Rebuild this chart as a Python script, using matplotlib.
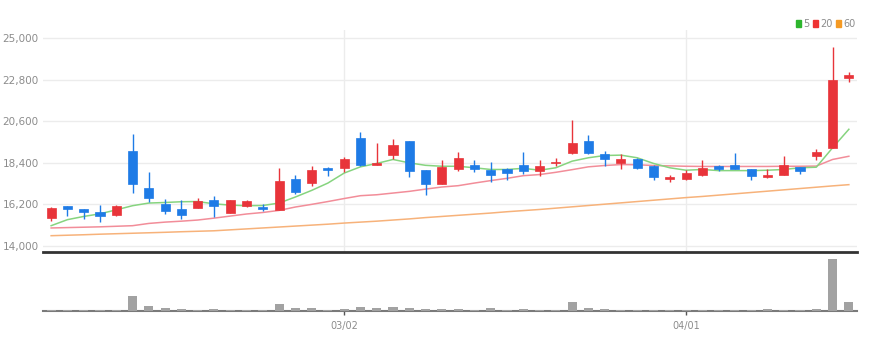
import matplotlib
matplotlib.use("Agg")
import matplotlib.pyplot as plt
from matplotlib.patches import Patch

# daily OHLC (50 sessions)
opens = [15470, 16080, 15920, 15780, 15620, 19010, 17050, 16190, 15970, 16010,
         16420, 15730, 16120, 16050, 15900, 17510, 17320, 18140, 18140, 19700,
         18300, 18800, 19540, 18020, 17270, 18040, 18300, 18000, 18040, 18300,
         17940, 18390, 18890, 19540, 18870, 18390, 18570, 18250, 17540, 17540,
         17730, 18200, 18260, 18040, 17620, 17770, 18160, 18770, 19190, 22890]
highs = [16030, 16100, 15970, 16150, 16150, 19910, 17900, 16490, 16430, 16550,
         16610, 16440, 16430, 16190, 18130, 17760, 18200, 18160, 18690, 20020,
         19460, 19630, 19560, 18030, 18520, 18980, 18520, 18420, 18130, 18980,
         18520, 18660, 20660, 19850, 19010, 18870, 18660, 18300, 17770, 18000,
         18520, 18300, 18890, 18050, 18070, 18740, 18170, 19100, 24520, 23190]
lows = [15330, 15550, 15430, 15270, 15550, 16790, 16340, 15690, 15410, 15990,
        15520, 15710, 16060, 15850, 15870, 16750, 17190, 17670, 17930, 18200,
        18290, 18570, 17620, 16700, 17250, 17940, 17890, 17360, 17500, 17820,
        17720, 18210, 18840, 18840, 18210, 18040, 18090, 17500, 17360, 17500,
        17680, 17940, 18040, 17470, 17610, 17760, 17810, 18520, 19190, 22660]
closes = [16000, 15960, 15800, 15590, 16120, 17280, 16540, 15850, 15640, 16380,
          16130, 16420, 16380, 15920, 17420, 16870, 18000, 18020, 18590, 18290,
          18380, 19330, 17980, 17270, 18160, 18660, 18040, 17750, 17860, 17980,
          18210, 18460, 19460, 18930, 18570, 18600, 18130, 17650, 17620, 17860,
          18130, 18070, 18040, 17680, 17770, 18300, 17940, 18940, 22780, 23030]

# moving averages as published with the quotes
ma5 = [15060, 15380, 15550, 15690, 15900, 16120, 16260, 16290, 16330, 16340,
       16220, 16150, 16120, 16130, 16260, 16580, 16930, 17320, 17850, 18180,
       18360, 18570, 18390, 18260, 18210, 18210, 18130, 18040, 18040, 18100,
       18000, 18130, 18480, 18660, 18780, 18800, 18660, 18360, 18130, 18000,
       18040, 17980, 17980, 17980, 18000, 18040, 18130, 18160, 19190, 20170]
ma20 = [14940, 14960, 14980, 15000, 15030, 15060, 15180, 15250, 15300, 15360,
        15460, 15570, 15680, 15760, 15870, 16050, 16190, 16340, 16500, 16650,
        16700, 16790, 16880, 17000, 17110, 17180, 17320, 17450, 17570, 17710,
        17770, 17890, 18030, 18180, 18250, 18300, 18290, 18250, 18230, 18210,
        18200, 18200, 18200, 18200, 18200, 18210, 18210, 18220, 18570, 18740]
ma60 = [14530, 14555, 14580, 14610, 14635, 14660, 14685, 14710, 14740, 14765,
        14790, 14840, 14890, 14940, 14990, 15040, 15090, 15140, 15200, 15250,
        15300, 15360, 15420, 15490, 15550, 15610, 15670, 15730, 15800, 15860,
        15920, 15990, 16060, 16130, 16200, 16270, 16340, 16410, 16480, 16550,
        16610, 16680, 16750, 16820, 16890, 16960, 17030, 17100, 17170, 17235]

# traded volume (thousand shares)
volume = [60, 70, 60, 60, 70, 1020, 290, 160, 140, 70,
          140, 70, 60, 70, 470, 180, 180, 70, 140, 250,
          160, 250, 180, 140, 140, 140, 70, 160, 70, 140,
          70, 60, 610, 180, 140, 60, 70, 60, 70, 60,
          70, 60, 70, 60, 140, 70, 60, 140, 3500, 560]

price_ticks = [14000, 16200, 18400, 20600, 22800, 25000]
date_ticks = [18, 39]
date_labels = ["03/02", "04/01"]

UP = "#e8343a"
DOWN = "#1e7be6"
GRID = "#ececec"
TXT = "#8c8c8c"
NARROW = ["Liberation Sans Narrow", "DejaVu Sans"]

fig = plt.figure(figsize=(8.75, 3.5), dpi=100)
ax = fig.add_axes([43 / 875, 1 - 252 / 350, 814 / 875, 222 / 350])
axv = fig.add_axes([43 / 875, 1 - 311 / 350, 814 / 875, 55 / 350])

n = len(closes)
xs = list(range(n))

# candles
for i in xs:
    o, h, l, c = opens[i], highs[i], lows[i], closes[i]
    col = UP if c >= o else DOWN
    ax.vlines(i, l, h, color=col, linewidth=1, zorder=3)
    bottom = min(o, c)
    height = max(abs(c - o), 40)
    ax.bar(i, height, bottom=bottom, width=0.56, color=col, edgecolor=col,
           linewidth=0.5, zorder=4)

# moving averages
ax.plot(xs, ma60, color="#f7b27a", linewidth=1.1, zorder=2)
ax.plot(xs, ma20, color="#f28d99", linewidth=1.1, zorder=2)
ax.plot(xs, ma5, color="#86d47f", linewidth=1.1, zorder=2)

ax.set_xlim(-0.5, n - 0.5)
ax.set_ylim(13666, 25432)
ax.set_yticks(price_ticks)
ax.set_yticklabels([f"{v:,}" for v in price_ticks], family=NARROW,
                   fontsize=7.5, color=TXT)
ax.tick_params(axis="y", length=0, pad=3)
ax.set_xticks(date_ticks)
ax.tick_params(axis="x", length=0, labelbottom=False)
ax.grid(True, color=GRID, linewidth=1)
ax.set_axisbelow(True)
for side in ["top", "left", "right"]:
    ax.spines[side].set_visible(False)
ax.spines["bottom"].set_color("#333333")
ax.spines["bottom"].set_linewidth(2)

# legend
handles = [Patch(color="#2db52d"), Patch(color="#ee3333"), Patch(color="#f59a23")]
fig.legend(handles, ["5", "20", "60"], loc="upper right",
           bbox_to_anchor=(864 / 875, 1 - 10 / 350), ncol=3, frameon=False,
           handlelength=0.5, handleheight=0.8, handletextpad=0.2,
           columnspacing=0.4, prop={"family": NARROW, "size": 7},
           labelcolor=TXT)

# volume panel
axv.bar(xs, volume, width=0.56, color="#a2a2a2", zorder=3)
axv.set_xlim(-0.5, n - 0.5)
axv.set_ylim(-20, max(volume) * 1.05)
axv.set_yticks([])
axv.set_xticks(date_ticks)
axv.set_xticklabels(date_labels, family=NARROW, fontsize=7, color=TXT)
axv.tick_params(axis="x", length=3, width=1, color="#555555", pad=4)
for side in ["top", "left", "right"]:
    axv.spines[side].set_visible(False)
axv.spines["bottom"].set_color("#7a7a7a")
axv.spines["bottom"].set_linewidth(1.5)
axv.spines["bottom"].set_zorder(2)

fig.savefig("out.png", dpi=100, facecolor="white")
